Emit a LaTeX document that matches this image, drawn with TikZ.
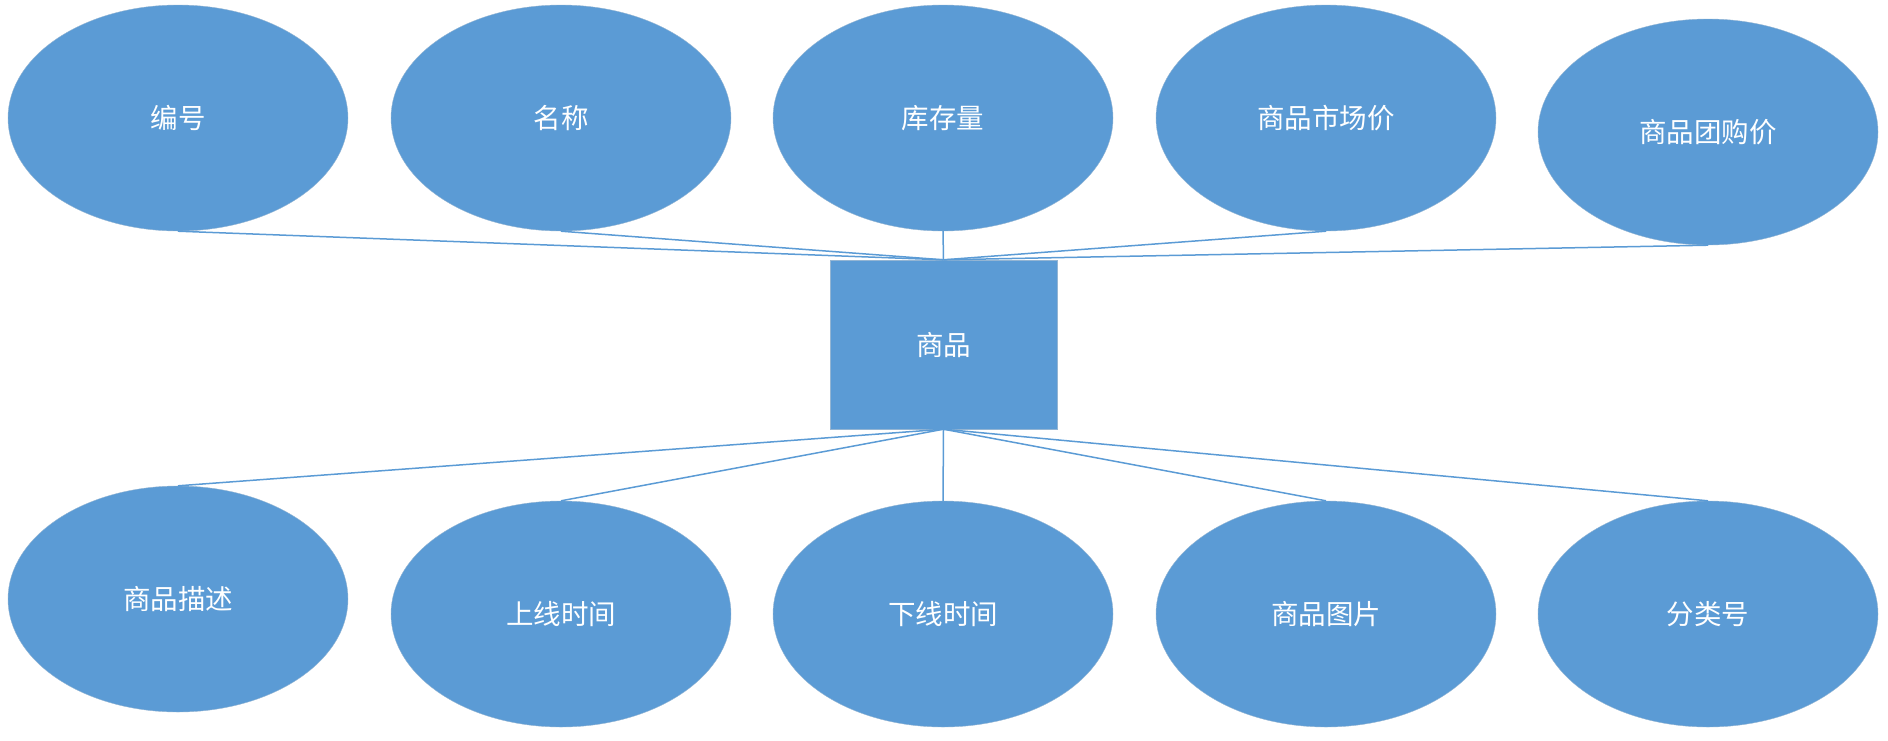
\documentclass[tikz,border=0pt]{standalone}
\usepackage{fontspec}
\newfontfamily\cjk{Noto Sans CJK SC}
\usetikzlibrary{shapes.geometric}
\definecolor{officeblue}{HTML}{5B9BD5}
\tikzset{
  attr/.style={ellipse, fill=officeblue, draw=officeblue!85!black!60, line width=0.4pt,
    minimum width=340pt, minimum height=226pt, inner sep=0pt,
    text=white, font=\cjk\fontsize{27.5}{32}\selectfont},
  entity/.style={rectangle, fill=officeblue, draw=officeblue!85!black!60, line width=0.4pt,
    minimum width=227pt, minimum height=169pt, inner sep=0pt,
    text=white, font=\cjk\fontsize{27.5}{32}\selectfont},
  link/.style={draw=officeblue, line width=1.5pt}
}
\begin{document}
\begin{tikzpicture}[x=1pt,y=-1pt]
\useasboundingbox (0,0) rectangle (1888,740);
\node[entity] (ent) at (943.5,344.5) {商品};
\node[attr] (a1) at (178,118) {编号};
\node[attr] (a2) at (561,118) {名称};
\node[attr] (a3) at (943,118) {库存量};
\node[attr] (a4) at (1326,118) {商品市场价};
\node[attr] (a5) at (1708,132) {商品团购价};
\node[attr] (b1) at (178,599) {商品描述};
\node[attr] (b2) at (561,614) {上线时间};
\node[attr] (b3) at (943,614) {下线时间};
\node[attr] (b4) at (1326,614) {商品图片};
\node[attr] (b5) at (1708,614) {分类号};
\foreach \n in {a1,a2,a3,a4,a5} \draw[link] (\n.south) -- (ent.north);
\foreach \n in {b1,b2,b3,b4,b5} \draw[link] (ent.south) -- (\n.north);
\end{tikzpicture}
\end{document}
